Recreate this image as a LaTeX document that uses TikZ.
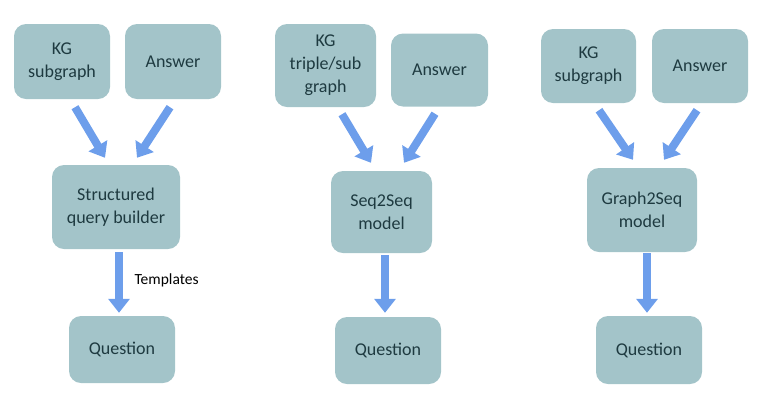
\documentclass[tikz,border=0pt]{standalone}
\usepackage{fontspec}
\setmainfont{Carlito}
\usetikzlibrary{arrows.meta,calc}
\definecolor{boxfill}{HTML}{A3C4C9}
\definecolor{boxtext}{HTML}{1E3A40}
\definecolor{arrblue}{HTML}{6D9EEB}
\tikzset{
  box/.style={fill=boxfill, rounded corners=12pt, inner sep=2pt, align=center,
    text=boxtext, font=\fontsize{18}{23}\selectfont},
  arr/.style={draw=arrblue, line width=8pt, -{Triangle[width=21pt,length=14pt]}},
}
\begin{document}
\begin{tikzpicture}[x=1pt,y=-1pt]
\useasboundingbox (0,0) rectangle (759,408);
% left
\node[box, minimum width=96pt, minimum height=75pt] (kg1) at (62,61.5) {KG\\subgraph};
\node[box, minimum width=96pt, minimum height=75pt] (an1) at (173,61.5) {Answer};
\node[box, minimum width=128pt, minimum height=84pt] (sq1) at (116,207) {Structured\\query builder};
\node[box, minimum width=106pt, minimum height=67pt] (q1) at (122,349.5) {Question};
\draw[arr] ($(kg1.south)+(13,8)$) -- ($(sq1.north)+(-11,-7)$);
\draw[arr] ($(an1.south)+(-3,8)$) -- ($(sq1.north)+(21,-7)$);
\draw[arr] ($(sq1.south)+(3,3)$) -- ($(q1.north)+(-3,-3)$);
\node[anchor=west, font=\fontsize{15.5}{18}\selectfont, text=black] (tpl) at (131,280) {Templates};
% middle
\node[box, minimum width=101pt, minimum height=83pt] (kg2) at (325.5,65.5) {KG\\triple/sub\\graph};
\node[box, minimum width=97pt, minimum height=73pt] (an2) at (439.5,70) {Answer};
\node[box, minimum width=101pt, minimum height=82pt] (m2) at (381.5,212) {Seq2Seq\\model};
\node[box, minimum width=106pt, minimum height=67pt] (q2) at (388,350.5) {Question};
\draw[arr] ($(kg2.south)+(16.5,7)$) -- ($(m2.north)+(-10.5,-8)$);
\draw[arr] ($(an2.south)+(-4.5,7)$) -- ($(m2.north)+(22.5,-8)$);
\draw[arr] ($(m2.south)+(3.5,2)$) -- ($(q2.north)+(-3,-4)$);
% right
\node[box, minimum width=95pt, minimum height=74pt] (kg3) at (588.5,66) {KG\\subgraph};
\node[box, minimum width=96pt, minimum height=74pt] (an3) at (700,66) {Answer};
\node[box, minimum width=110pt, minimum height=84pt] (m3) at (642,210) {Graph2Seq\\model};
\node[box, minimum width=106pt, minimum height=68pt] (q3) at (649,350) {Question};
\draw[arr] ($(kg3.south)+(10.5,7)$) -- ($(m3.north)+(-9,-8)$);
\draw[arr] ($(an3.south)+(-3,7)$) -- ($(m3.north)+(22,-8)$);
\draw[arr] ($(m3.south)+(5,1)$) -- ($(q3.north)+(-2,-3)$);
\end{tikzpicture}
\end{document}
